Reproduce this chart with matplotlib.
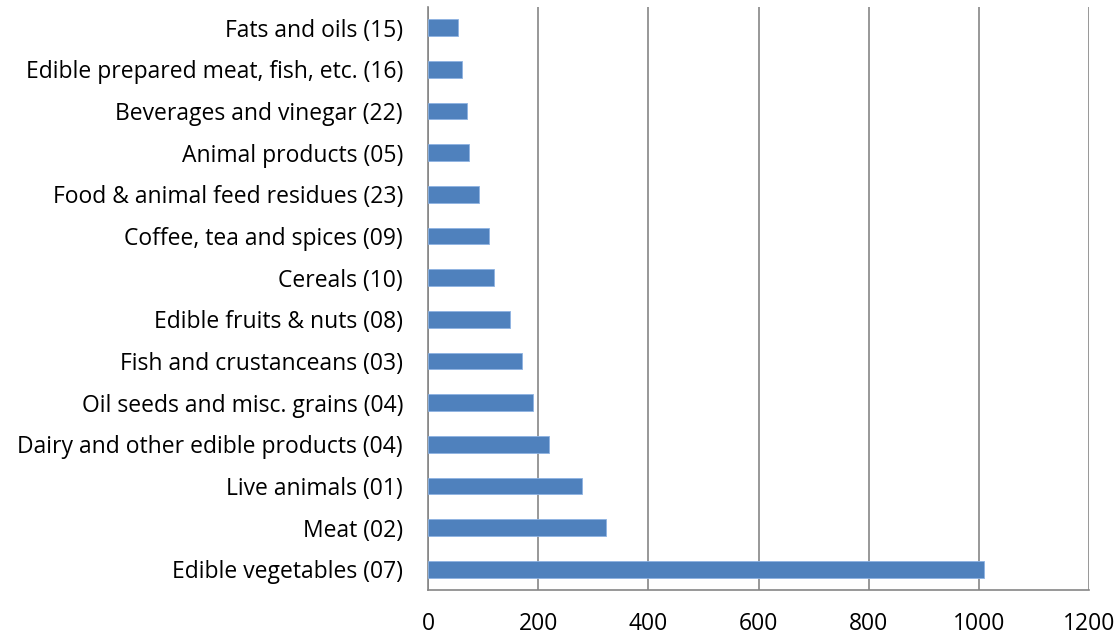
import matplotlib.pyplot as plt
import numpy as np

# categories listed bottom -> top as in the chart
categories = [
    "Edible vegetables (07)",
    "Meat (02)",
    "Live animals (01)",
    "Dairy and other edible products (04)",
    "Oil seeds and misc. grains (04)",
    "Fish and crustanceans (03)",
    "Edible fruits & nuts (08)",
    "Cereals (10)",
    "Coffee, tea and spices (09)",
    "Food & animal feed residues (23)",
    "Animal products (05)",
    "Beverages and vinegar (22)",
    "Edible prepared meat, fish, etc. (16)",
    "Fats and oils (15)",
]
values = [1010, 324, 280, 220, 191, 171, 149, 120, 110, 92, 75, 71, 62, 55]
xticks = [0, 200, 400, 600, 800, 1000, 1200]

plt.rcParams['font.family'] = ['Open Sans', 'DejaVu Sans']

fig = plt.figure(figsize=(11.2, 6.36), dpi=100)
ax = fig.add_axes([428 / 1120, 1 - 590 / 636, (1089 - 428) / 1120, (590 - 7) / 636])

y = np.arange(len(categories))
ax.barh(y, values, height=0.4, color='#4F81BD', edgecolor='#8DB3E2', linewidth=0.6, zorder=3)

ax.set_xlim(0, 1200)
ax.set_ylim(-0.5, len(categories) - 0.5)
ax.set_xticks(xticks)
ax.set_xticklabels([str(t) for t in xticks], fontsize=16.5)
ax.set_yticks(y)
ax.set_yticklabels(categories, fontsize=16.5)
ax.tick_params(axis='both', length=0)
ax.tick_params(axis='y', pad=18)
ax.tick_params(axis='x', pad=16)

ax.grid(axis='x', color='#868686', linewidth=1.2, zorder=0)
for s in ['top', 'right']:
    ax.spines[s].set_visible(False)
for s in ['left', 'bottom']:
    ax.spines[s].set_color('#868686')
    ax.spines[s].set_linewidth(1.2)

fig.savefig('out.png', dpi=100)
